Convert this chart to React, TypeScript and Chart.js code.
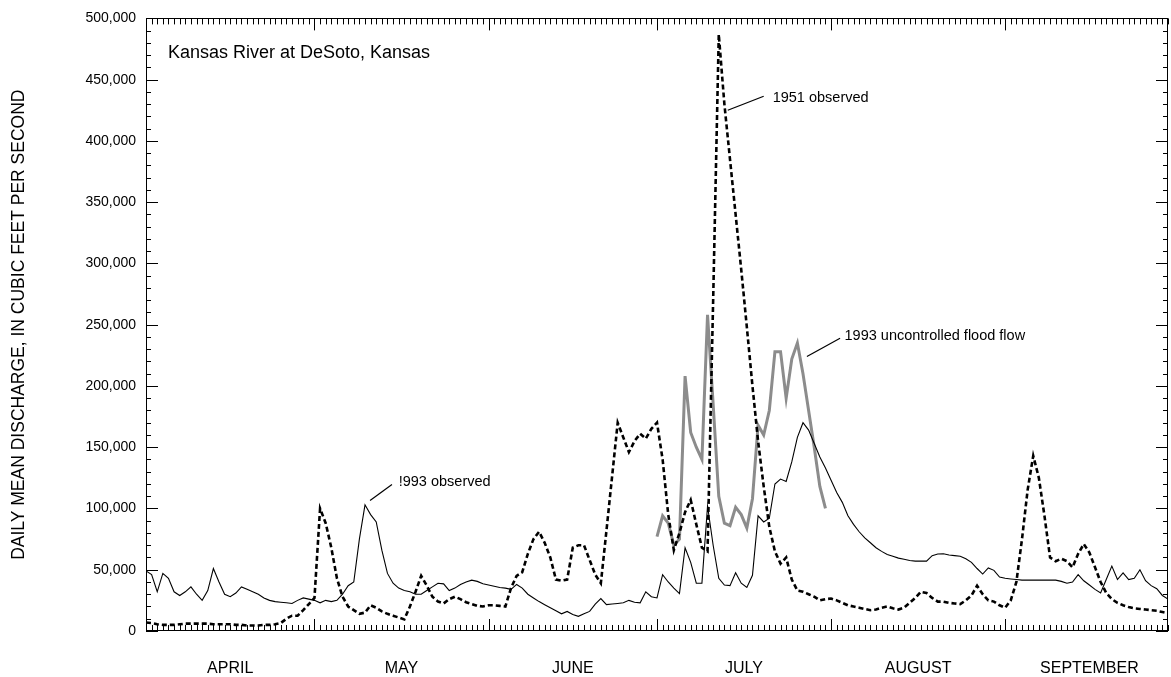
import React, { useEffect, useRef } from "react";
import { Chart, registerables } from "chart.js";

Chart.register(...registerables);

const FONT = "'Liberation Sans', Arial, Helvetica, sans-serif";

// Day index 0 = April 1, 182 = September 30
const MONTHS = ["APRIL", "MAY", "JUNE", "JULY", "AUGUST", "SEPTEMBER"];
const MONTH_STARTS = [0, 30, 61, 91, 122, 153, 183];
const Y_TICKS_MAJOR = 50000;
const Y_TICKS_MINOR = 10000;
const Y_MAX = 500000;

// 1993 observed (solid)
const obs1993Apr = [49000, 46000, 32000, 47000, 43000, 32000, 29000, 32000, 36000, 30000, 25000, 33000, 51000, 40000, 30000, 28000, 31000, 36000, 34000, 32000, 30000, 27000, 25000, 24000, 23500, 23000, 22500, 25000, 27000, 26000];
const obs1993May = [25000, 23000, 25000, 24000, 25000, 30000, 37000, 40000, 75000, 103000, 95000, 89000, 66000, 47000, 39000, 35000, 33000, 32000, 30000, 30000, 33000, 36000, 39000, 38500, 33000, 35000, 38000, 40000, 41500, 40500, 38500];
const obs1993Jun = [37500, 36500, 35500, 35000, 34000, 38000, 35000, 30000, 27000, 24000, 21500, 19000, 16500, 14000, 16000, 13500, 12000, 14000, 16000, 22000, 26500, 21500, 22000, 22500, 23000, 25000, 23500, 23000, 32000, 28000];
const obs1993Jul = [27000, 46000, 40000, 35000, 30500, 68000, 56000, 39000, 39000, 102000, 70000, 43000, 37500, 37000, 47500, 39000, 35500, 45500, 94000, 89000, 92000, 120000, 124000, 122000, 138000, 158000, 170000, 164000, 153000, 142000, 133000];
const obs1993Aug = [123000, 113000, 105000, 94000, 87000, 81000, 76000, 72000, 68000, 65000, 62500, 61000, 59500, 58500, 57500, 57000, 57000, 57000, 61500, 62800, 63000, 62000, 61500, 61000, 59000, 56000, 51000, 46500, 51500, 49500, 44000];
const obs1993Sep = [43000, 42500, 42000, 41500, 41500, 41500, 41500, 41500, 41500, 41500, 40500, 39000, 40000, 46000, 41000, 37500, 34000, 31000, 42000, 53000, 42000, 47500, 42000, 43000, 50000, 41000, 37000, 34500, 29000, 26000];

// 1951 observed (dashed)
const obs1951Apr = [7000, 6500, 5500, 5000, 5000, 5000, 5500, 6000, 6000, 6000, 6000, 6000, 5500, 5500, 5500, 5500, 5000, 5000, 4500, 4500, 4500, 5000, 5000, 5500, 6500, 10000, 12500, 12500, 17000, 22000];
const obs1951May = [27000, 100000, 88000, 68000, 43000, 28000, 20000, 17000, 14000, 15000, 21000, 19000, 16000, 14000, 12500, 11000, 9500, 20000, 32000, 45000, 37000, 28000, 24000, 22500, 26000, 28000, 26000, 23500, 22000, 20500, 20000];
const obs1951Jun = [21000, 21000, 20500, 20000, 35000, 45000, 48000, 63000, 75000, 81000, 72000, 60000, 42000, 41000, 42000, 68000, 70000, 70000, 58000, 46000, 39000, 82000, 126000, 170000, 158000, 146000, 155000, 161000, 157000, 165000];
const obs1951Jul = [170000, 140000, 95000, 66000, 80000, 97000, 107000, 87000, 68000, 65000, 270000, 487000, 430000, 385000, 340000, 295000, 248000, 200000, 155000, 118000, 85000, 65000, 55000, 60000, 42000, 33000, 32000, 30000, 28000, 25000, 26000];
const obs1951Aug = [26500, 25000, 23000, 21000, 20000, 19000, 18000, 17000, 17500, 19000, 20000, 18500, 17500, 19000, 23000, 27000, 32000, 31000, 27000, 24000, 24000, 23000, 22500, 22000, 25000, 29000, 37000, 30000, 25000, 24000, 21000];
const obs1951Sep = [19000, 25000, 40000, 75000, 115000, 143000, 125000, 94000, 60000, 57000, 59000, 57000, 52000, 63000, 71000, 64000, 52000, 40000, 31000, 26000, 23000, 21000, 19500, 18500, 18000, 17500, 17000, 16500, 15500, 14500];

// 1993 uncontrolled flood flow (July only, gray)
const uncontrolledStartDay = 91;
const uncontrolled1993Jul = [77000, 94000, 88000, 70000, 75000, 208000, 162000, 150000, 140000, 258000, 185000, 110000, 88000, 86000, 101000, 95000, 84000, 108000, 168000, 160000, 180000, 228000, 228000, 190000, 222000, 235000, 210000, 180000, 150000, 118000, 100000];

const obs1993 = [...obs1993Apr, ...obs1993May, ...obs1993Jun, ...obs1993Jul, ...obs1993Aug, ...obs1993Sep];
const obs1951 = [...obs1951Apr, ...obs1951May, ...obs1951Jun, ...obs1951Jul, ...obs1951Aug, ...obs1951Sep];

// Annotations in data coordinates (day, discharge)
const annotations = [
  { text: "Kansas River at DeSoto, Kansas", day: 3.9, value: 471500, size: 18, line: null },
  { text: "1951 observed", day: 111.6, value: 435000, size: 14.5, line: [103.6, 425000, 110.0, 436500] },
  { text: "1993 uncontrolled flood flow", day: 124.4, value: 240500, size: 14.5, line: [117.7, 224000, 123.6, 239000] },
  { text: "!993 observed", day: 45.0, value: 122000, size: 14.5, line: [39.9, 106500, 43.8, 119500] },
];

const frameAndTicks = {
  id: "frameAndTicks",
  afterDraw(chart: any) {
    const { ctx, chartArea: a, scales } = chart;
    const xs = scales.x;
    const ys = scales.y;
    ctx.save();
    ctx.strokeStyle = "#000";
    ctx.lineWidth = 1;
    ctx.strokeRect(Math.round(a.left) + 0.5, Math.round(a.top) + 0.5, Math.round(a.right - a.left) - 1, Math.round(a.bottom - a.top) - 1);
    ctx.beginPath();
    const lastDay = MONTH_STARTS[MONTH_STARTS.length - 1] - 1;
    for (let d = 0; d <= lastDay; d++) {
      const px = Math.round(xs.getPixelForValue(d)) + 0.5;
      const isMonth = MONTH_STARTS.includes(d) && d !== 0;
      const len = isMonth ? 12 : 6;
      ctx.moveTo(px, a.bottom);
      ctx.lineTo(px, a.bottom - len);
      ctx.moveTo(px, a.top);
      ctx.lineTo(px, a.top + len);
    }
    for (let v = 0; v <= Y_MAX; v += Y_TICKS_MINOR) {
      const py = Math.round(ys.getPixelForValue(v)) + 0.5;
      const len = v % Y_TICKS_MAJOR === 0 ? 12 : 5;
      ctx.moveTo(a.left, py);
      ctx.lineTo(a.left + len, py);
      ctx.moveTo(a.right, py);
      ctx.lineTo(a.right - len, py);
    }
    ctx.stroke();

    ctx.fillStyle = "#000";
    ctx.textBaseline = "middle";
    ctx.textAlign = "left";
    for (const an of annotations) {
      ctx.font = `${an.size}px ${FONT}`;
      ctx.fillText(an.text, xs.getPixelForValue(an.day), ys.getPixelForValue(an.value));
      if (an.line) {
        ctx.beginPath();
        ctx.lineWidth = 1.2;
        ctx.moveTo(xs.getPixelForValue(an.line[0]), ys.getPixelForValue(an.line[1]));
        ctx.lineTo(xs.getPixelForValue(an.line[2]), ys.getPixelForValue(an.line[3]));
        ctx.stroke();
      }
    }
    ctx.restore();
  },
};

const monthMids = MONTHS.map((_, i) => Math.min(181.5, (MONTH_STARTS[i] + MONTH_STARTS[i + 1]) / 2));

export default function App() {
  const ref = useRef<HTMLCanvasElement | null>(null);
  useEffect(() => {
    if (!ref.current) return;
    const chart = new Chart(ref.current, {
      type: "line",
      data: {
        datasets: [
          {
            label: "1951 observed",
            data: obs1951.map((v, i) => ({ x: i, y: v })),
            borderColor: "#000",
            borderWidth: 2.6,
            borderDash: [5, 3],
            pointRadius: 0,
            tension: 0,
            order: 0,
          },
          {
            label: "1993 observed",
            data: obs1993.map((v, i) => ({ x: i, y: v })),
            borderColor: "#000",
            borderWidth: 1.1,
            pointRadius: 0,
            tension: 0,
            order: 1,
          },
          {
            label: "1993 uncontrolled flood flow",
            data: uncontrolled1993Jul.map((v, i) => ({ x: uncontrolledStartDay + i, y: v })),
            borderColor: "#8c8c8c",
            borderWidth: 3,
            pointRadius: 0,
            tension: 0,
            order: 2,
          },
        ],
      },
      options: {
        responsive: false,
        animation: false,
        layout: { padding: { top: 16, right: 3, left: 0, bottom: 0 } },
        plugins: { legend: { display: false }, tooltip: { enabled: false }, title: { display: false } },
        scales: {
          x: {
            type: "linear",
            min: 0,
            max: 182,
            grid: { display: false },
            border: { display: false },
            afterBuildTicks: (axis: any) => {
              axis.ticks = monthMids.map((v) => ({ value: v }));
            },
            afterFit: (scale: any) => {
              scale.height = 46;
            },
            ticks: {
              autoSkip: false,
              maxRotation: 0,
              padding: 20,
              color: "#000",
              font: { family: FONT, size: 16 },
              callback: (_v: any, i: number) => MONTHS[i],
            },
          },
          y: {
            min: 0,
            max: Y_MAX,
            grid: { display: false, drawTicks: false },
            border: { display: false },
            afterFit: (scale: any) => {
              scale.width = 146;
            },
            ticks: {
              stepSize: Y_TICKS_MAJOR,
              padding: 10,
              color: "#000",
              font: { family: FONT, size: 14 },
              callback: (v: any) => Number(v).toLocaleString("en-US"),
            },
            title: {
              display: true,
              text: "DAILY MEAN DISCHARGE, IN CUBIC FEET PER SECOND",
              color: "#000",
              font: { family: FONT, size: 17.5 },
              padding: { top: 9, bottom: 0 },
            },
          },
        },
      },
      plugins: [frameAndTicks],
    });
    return () => chart.destroy();
  }, []);
  return (
    <div style={{ position: "absolute", left: 0, top: 0, width: 1171, height: 677, background: "#fff" }}>
      <canvas ref={ref} width={1171} height={677} style={{ width: 1171, height: 677, display: "block" }} />
    </div>
  );
}
